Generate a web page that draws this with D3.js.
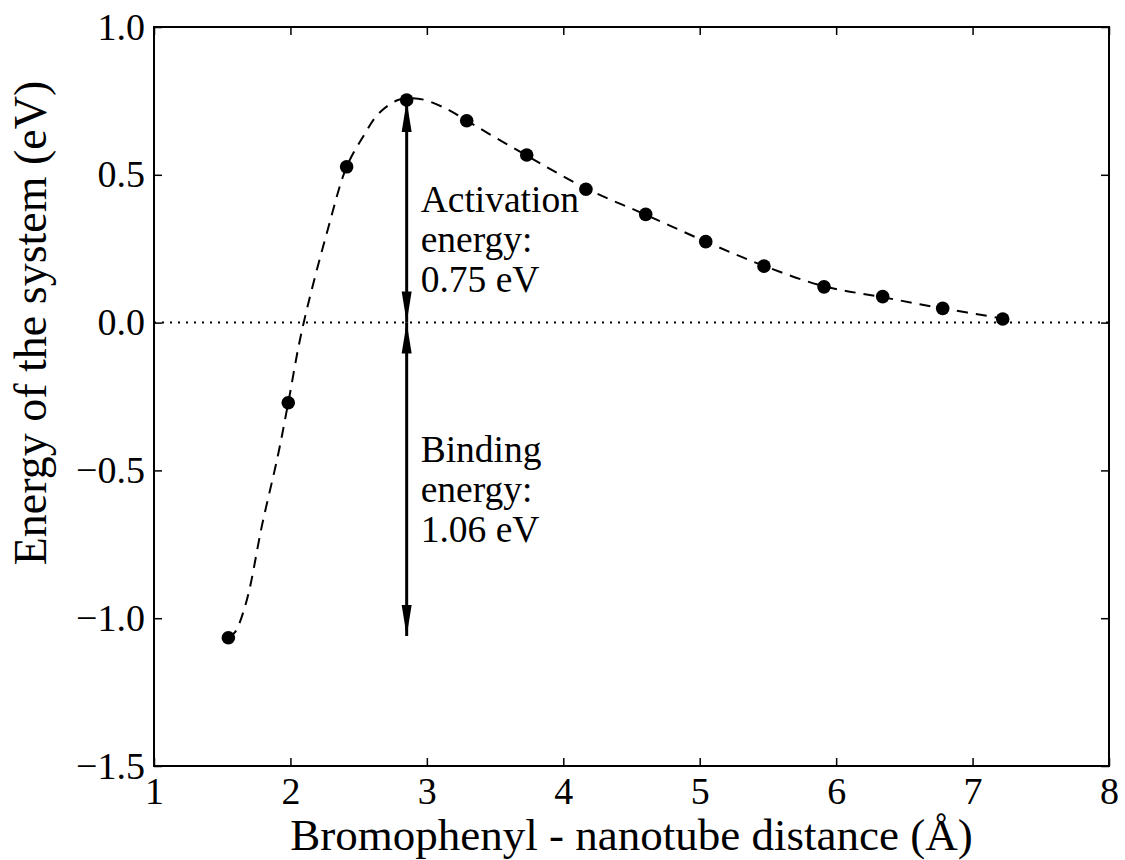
<!DOCTYPE html>
<html>
<head>
<meta charset="utf-8">
<script src="https://cdn.jsdelivr.net/npm/d3@7"></script>
<style>
  body { margin: 0; background: #fff; }
  svg text { font-family: "Liberation Serif", "DejaVu Serif", serif; fill: #000; }
</style>
</head>
<body>
<svg width="1125" height="860"></svg>
<script>
// computed points: distance (Angstrom) and energy (eV)
var distance = [1.545, 1.984, 2.412, 2.852, 3.292, 3.732, 4.166, 4.604, 5.044, 5.471, 5.911, 6.341, 6.781, 7.221];
var energy = [-1.066, -0.271, 0.527, 0.753, 0.683, 0.567, 0.451, 0.366, 0.274, 0.191, 0.121, 0.088, 0.048, 0.012];

// dashed fit curve, read along the dashes
var fitDistance = [1.545, 1.594, 1.680, 1.792, 1.909, 1.984, 2.085, 2.281, 2.412, 2.539, 2.642, 2.788, 2.898, 2.986, 3.162, 3.292,
                   3.732, 4.166, 4.604, 5.044, 5.471, 5.911, 6.341, 6.781, 7.221];
var fitEnergy = [-1.066, -1.047, -0.939, -0.685, -0.448, -0.271, -0.025, 0.327, 0.527, 0.634, 0.705, 0.753, 0.759, 0.753, 0.719, 0.683,
                 0.565, 0.454, 0.365, 0.274, 0.192, 0.123, 0.086, 0.048, 0.014];

var xTicks = [1, 2, 3, 4, 5, 6, 7, 8];
var yTicks = [-1.5, -1.0, -0.5, 0.0, 0.5, 1.0];

var activationLines = ["Activation", "energy:", "0.75 eV"];
var bindingLines = ["Binding", "energy:", "1.06 eV"];
var activationEnergy = 0.75;
var bindingEnergy = -1.06;
var arrowAt = 2.852;

// plot box in pixels
var plotL = 154, plotR = 1109, plotT = 27, plotB = 766;

var svg = d3.select("svg");

var x = d3.scaleLinear().domain([1, 8]).range([plotL, plotR]);
var y = d3.scaleLinear().domain([-1.5, 1]).range([plotB, plotT]);

// zero line (dotted)
svg.append("line")
    .attr("x1", plotL).attr("x2", plotR)
    .attr("y1", y(0)).attr("y2", y(0))
    .attr("stroke", "black")
    .attr("stroke-width", 2)
    .attr("stroke-dasharray", "2,6");

// fitted curve (dashed)
var curveLine = d3.line()
    .x((d, i) => x(fitDistance[i]))
    .y((d, i) => y(fitEnergy[i]))
    .curve(d3.curveCatmullRom.alpha(0.5));

svg.append("path")
    .attr("d", curveLine(fitDistance))
    .attr("fill", "none")
    .attr("stroke", "black")
    .attr("stroke-width", 2)
    .attr("stroke-dasharray", "11,8");

// dots
svg.selectAll("circle.pt")
    .data(distance)
    .enter()
    .append("circle")
    .attr("class", "pt")
    .attr("cx", (d) => x(d))
    .attr("cy", (d, i) => y(energy[i]))
    .attr("r", 6.8)
    .attr("fill", "black");

// double arrows
function arrowHead(xp, tipY, dir) {
    // dir = -1 points up, +1 points down
    var len = 31, half = 5;
    var baseY = tipY - dir * len;
    return `M${xp},${tipY} L${xp - half},${baseY} L${xp + half},${baseY} Z`;
}
function doubleArrow(v0, v1) {
    var xp = x(arrowAt);
    svg.append("line")
        .attr("x1", xp).attr("x2", xp)
        .attr("y1", y(v0)).attr("y2", y(v1))
        .attr("stroke", "black")
        .attr("stroke-width", 3);
    var dir0 = y(v0) > y(v1) ? 1 : -1;
    svg.append("path").attr("d", arrowHead(xp, y(v0), dir0)).attr("fill", "black");
    svg.append("path").attr("d", arrowHead(xp, y(v1), -dir0)).attr("fill", "black");
}
doubleArrow(0, activationEnergy);
doubleArrow(0, bindingEnergy);

// annotation text
function addLines(lines, firstBaseline) {
    svg.append("text")
        .attr("font-size", 37.5)
        .selectAll("tspan")
        .data(lines)
        .enter()
        .append("tspan")
        .attr("x", x(arrowAt) + 14)
        .attr("y", (d, i) => firstBaseline + i * 40)
        .text((d) => d);
}
addLines(activationLines, 212);
addLines(bindingLines, 462);

// frame
svg.append("rect")
    .attr("x", plotL).attr("y", plotT)
    .attr("width", plotR - plotL).attr("height", plotB - plotT)
    .attr("fill", "none")
    .attr("stroke", "black")
    .attr("stroke-width", 2);

// ticks (inside, all four sides)
var tickLen = 8;
var fmtY = (d) => d3.format(".1f")(d).replace("-", "\u2212");

var bottomAxis = d3.axisBottom(x).tickValues(xTicks).tickSizeInner(-tickLen).tickSizeOuter(0).tickPadding(11).tickFormat(d3.format("d"));
var topAxis = d3.axisTop(x).tickValues(xTicks).tickSizeInner(-tickLen).tickSizeOuter(0).tickFormat("");
var leftAxis = d3.axisLeft(y).tickValues(yTicks).tickSizeInner(-tickLen).tickSizeOuter(0).tickPadding(9).tickFormat(fmtY);
var rightAxis = d3.axisRight(y).tickValues(yTicks).tickSizeInner(-tickLen).tickSizeOuter(0).tickFormat("");

function styleAxis(g) {
    g.select(".domain").remove();
    g.selectAll(".tick line").attr("stroke", "black").attr("stroke-width", 1.5);
    g.selectAll(".tick text")
        .attr("font-family", "Liberation Serif, DejaVu Serif, serif")
        .attr("font-size", 38)
        .attr("fill", "black");
}

svg.append("g").attr("transform", `translate(0,${plotB})`).call(bottomAxis).call(styleAxis);
svg.append("g").attr("transform", `translate(0,${plotT})`).call(topAxis).call(styleAxis);
svg.append("g").attr("transform", `translate(${plotL},0)`).call(leftAxis).call(styleAxis);
svg.append("g").attr("transform", `translate(${plotR},0)`).call(rightAxis).call(styleAxis);

// axis titles
svg.append("text")
    .attr("x", (plotL + plotR) / 2)
    .attr("y", 850)
    .attr("text-anchor", "middle")
    .attr("font-size", 45)
    .text("Bromophenyl - nanotube distance (\u00c5)");

svg.append("text")
    .attr("transform", `translate(46,323) rotate(-90)`)
    .attr("text-anchor", "middle")
    .attr("font-size", 46)
    .text("Energy of the system (eV)");
</script>
</body>
</html>
